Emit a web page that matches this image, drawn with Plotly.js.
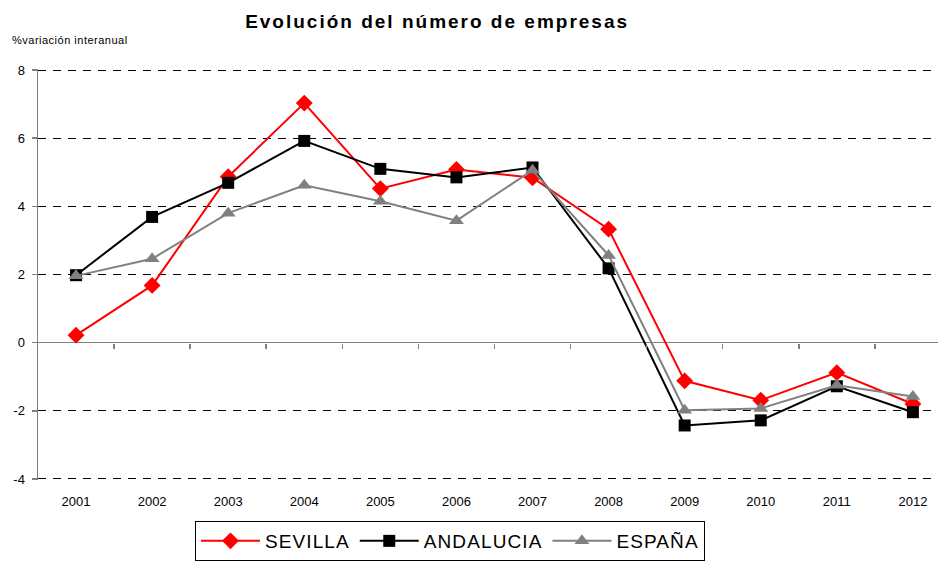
<!DOCTYPE html>
<html>
<head>
<meta charset="utf-8">
<script src="https://cdn.plot.ly/plotly-3.0.1.min.js"></script>
<style>
html,body{margin:0;padding:0;background:#fff;}
#chart{width:938px;height:561px;}
.gtitle{letter-spacing:2px;}
.legendtext{letter-spacing:1.1px;}
.annotation-text{letter-spacing:0.5px;}
</style>
</head>
<body>
<div id="chart"></div>
<script>
var years = ["2001","2002","2003","2004","2005","2006","2007","2008","2009","2010","2011","2012"];
var sevilla = [0.22, 1.68, 4.87, 7.03, 4.52, 5.08, 4.84, 3.33, -1.12, -1.69, -0.88, -1.8];
var andalucia = [1.98, 3.69, 4.69, 5.92, 5.1, 4.85, 5.14, 2.18, -2.43, -2.28, -1.28, -2.04];
var espana = [1.96, 2.46, 3.8, 4.62, 4.15, 3.58, 5.06, 2.56, -1.98, -1.93, -1.25, -1.58];
var yTicks = [-4, -2, 0, 2, 4, 6, 8];
var yTickText = ["-4", "-2", "0", "2", "4", "6", "8"];
var binEdges = [0.5, 1.5, 2.5, 3.5, 4.5, 5.5, 6.5, 7.5, 8.5, 9.5, 10.5, 11.5];

var font = "Arial, 'Liberation Sans', sans-serif";

var traces = [
  {x: years, y: sevilla, name: "SEVILLA", type: "scatter", mode: "lines+markers",
   line: {color: "#ff0000", width: 2}, marker: {symbol: "diamond", size: 13, color: "#ff0000"}},
  {x: years, y: andalucia, name: "ANDALUCIA", type: "scatter", mode: "lines+markers",
   line: {color: "#000000", width: 2}, marker: {symbol: "square", size: 12, color: "#000000"}},
  {x: years, y: espana, name: "ESPAÑA", type: "scatter", mode: "lines+markers",
   line: {color: "#808080", width: 2}, marker: {symbol: "triangle-up", size: 13, color: "#808080"}},
  {x: [], y: [], xaxis: "x2", yaxis: "y", showlegend: false, hoverinfo: "skip", type: "scatter", mode: "lines"}
];

var layout = {
  width: 938, height: 561,
  margin: {l: 38, r: 0, t: 69, b: 79},
  paper_bgcolor: "#ffffff", plot_bgcolor: "#ffffff",
  font: {family: font, color: "#000000"},
  title: {text: "<b>Evolución del número de empresas</b>", font: {family: font, size: 19, color: "#000000"},
          x: 0.466, xanchor: "center", y: 0.962, yanchor: "middle"},
  xaxis: {type: "category", range: [-0.5, 11.33], showgrid: false, showline: false, zeroline: false,
          ticks: "", tickfont: {size: 13, family: font}, ticklabelstandoff: 12, fixedrange: true},
  xaxis2: {type: "linear", overlaying: "x", anchor: "free", position: 4.03/12.06, range: [-0.5, 11.33],
           showgrid: false, zeroline: false, showline: false,
           ticks: "outside", ticklen: 5, tickcolor: "#808080", tickwidth: 1.5,
           tickmode: "array", tickvals: binEdges, showticklabels: false},
  yaxis: {range: [-4.03, 8.03], tickmode: "array", tickvals: yTicks, ticktext: yTickText,
          showline: true, linecolor: "#808080", linewidth: 1.5,
          ticks: "outside", ticklen: 5, tickcolor: "#808080", tickwidth: 1.5, ticklabelstandoff: 4,
          showgrid: true, gridcolor: "#000000", gridwidth: 1, griddash: "8px,7px",
          zeroline: true, zerolinecolor: "#808080", zerolinewidth: 1.5,
          tickfont: {size: 13, family: font}},
  showlegend: true,
  legend: {orientation: "h", x: 0.1744, xanchor: "left", y: -0.1, yanchor: "top",
           bordercolor: "#000000", borderwidth: 1, bgcolor: "#ffffff",
           font: {size: 19, family: font, color: "#000000"}, itemwidth: 59, tracegroupgap: 0},
  annotations: [
    {text: "%variación interanual", xref: "paper", yref: "paper", x: -0.031, y: 1.07,
     xanchor: "left", yanchor: "middle", showarrow: false, font: {size: 11, family: font, color: "#000000"}}
  ]
};

Plotly.newPlot("chart", traces, layout, {displayModeBar: false, staticPlot: true});
</script>
</body>
</html>
